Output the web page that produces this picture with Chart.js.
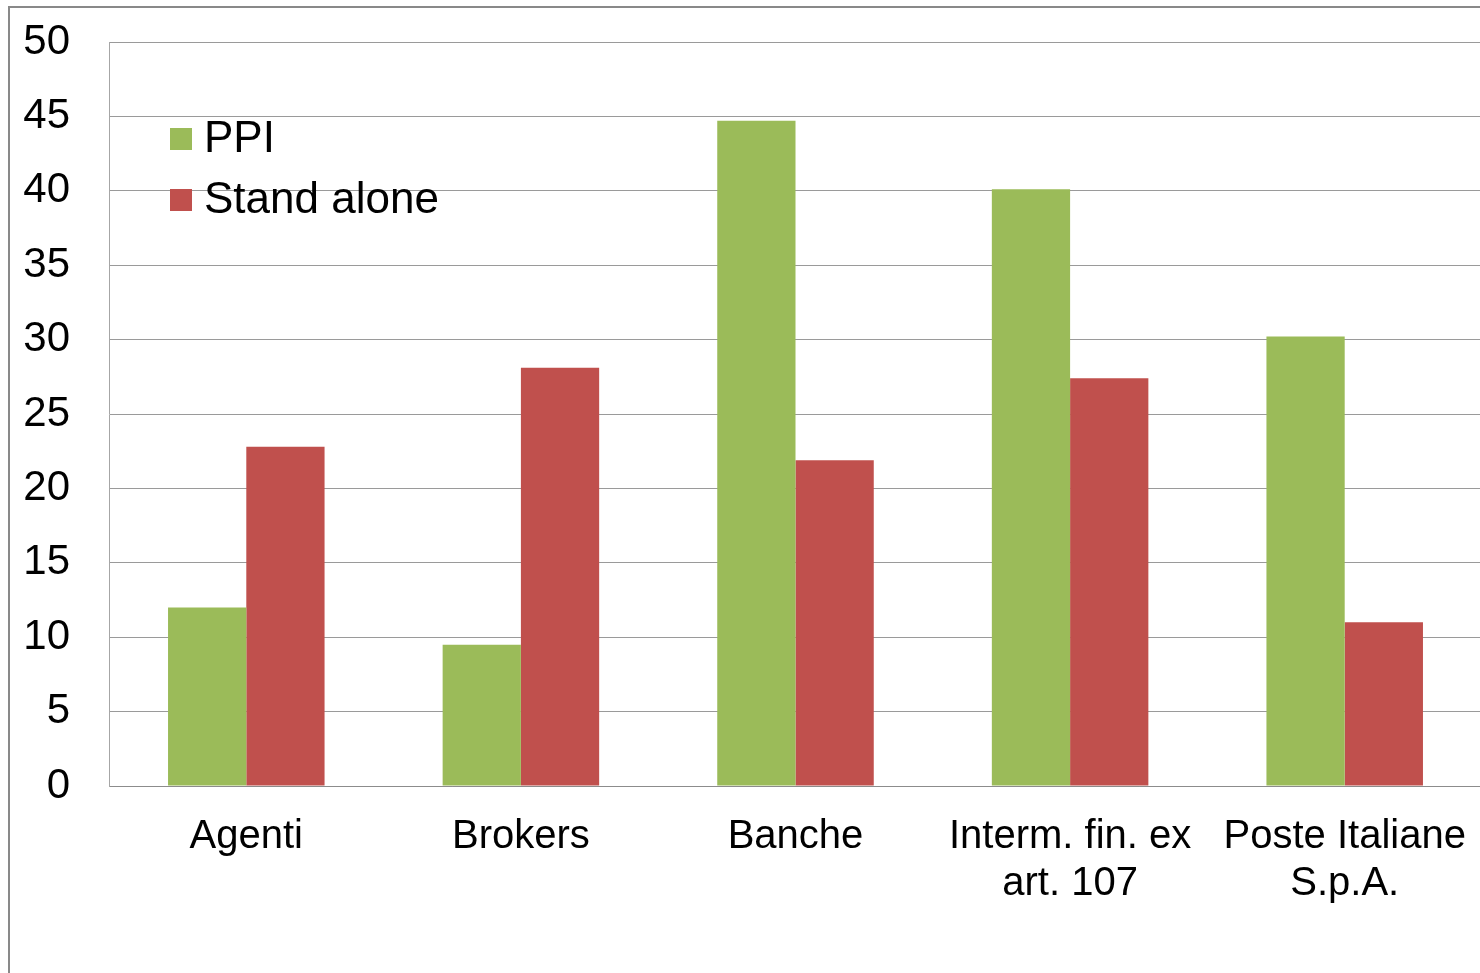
<!DOCTYPE html>
<html>
<head>
<meta charset="utf-8">
<script src="https://cdn.jsdelivr.net/npm/chart.js@4"></script>
<style>
  html, body { margin: 0; padding: 0; background: #fff; overflow: hidden; }
  #wrap { position: relative; width: 1480px; height: 973px; overflow: hidden; }
  #frame { position: absolute; left: 8px; top: 6px; width: 2000px; height: 2000px;
           border-left: 2px solid #898989; border-top: 2px solid #898989; }
  #box { position: absolute; left: 0; top: 0; width: 1482px; height: 973px; }
</style>
</head>
<body>
<div id="wrap">
  <div id="frame"></div>
  <div id="box"><canvas id="c"></canvas></div>
</div>
<script>
const categories = [
  'Agenti',
  'Brokers',
  'Banche',
  ['Interm. fin. ex', 'art. 107'],
  ['Poste Italiane', 'S.p.A.']
];
const ppiValues = [12.0, 9.5, 44.7, 40.1, 30.2];
const standAloneValues = [22.8, 28.1, 21.9, 27.4, 11.0];
const seriesNames = ['PPI', 'Stand alone'];
const seriesColors = ['#9BBB59', '#C0504D'];
const yTicks = [0, 5, 10, 15, 20, 25, 30, 35, 40, 45, 50];

const FONT = '"Liberation Sans", Arial, sans-serif';

// Legend drawn inside the plot area, top-left
const insideLegend = {
  id: 'insideLegend',
  afterDraw(chart) {
    const ctx = chart.ctx;
    ctx.save();
    ctx.font = '44px ' + FONT;
    ctx.textBaseline = 'alphabetic';
    ctx.textAlign = 'left';
    chart.data.datasets.forEach((ds, i) => {
      const y = 128 + i * 61;
      ctx.fillStyle = ds.backgroundColor;
      ctx.fillRect(170, y, 22, 22);
      ctx.fillStyle = '#000';
      ctx.fillText(ds.label, 204, y + 24);
    });
    ctx.restore();
  }
};

new Chart(document.getElementById('c'), {
  type: 'bar',
  data: {
    labels: categories,
    datasets: [
      { label: seriesNames[0], data: ppiValues, backgroundColor: seriesColors[0] },
      { label: seriesNames[1], data: standAloneValues, backgroundColor: seriesColors[1] }
    ]
  },
  options: {
    responsive: true,
    maintainAspectRatio: false,
    animation: false,
    layout: { padding: { top: 42, right: 0, bottom: 0, left: 0 } },
    datasets: { bar: { categoryPercentage: 0.57, barPercentage: 1.0 } },
    plugins: {
      legend: { display: false },
      tooltip: { enabled: false }
    },
    scales: {
      x: {
        grid: { display: false, drawTicks: false },
        border: { display: true, color: '#8c8c8c', width: 1 },
        ticks: {
          color: '#000',
          font: { family: FONT, size: 40, lineHeight: 1.19 },
          padding: 27,
          maxRotation: 0,
          autoSkip: false
        },
        afterFit(scale) {
          scale.height = 187;
          scale.paddingLeft = 0;
          scale.paddingRight = 0;
        }
      },
      y: {
        min: 0,
        max: 50,
        afterBuildTicks(scale) { scale.ticks = yTicks.map(v => ({ value: v })); },
        grid: { color: '#9a9a9a', lineWidth: 1, drawTicks: false },
        border: { display: true, color: '#a6a6a6', width: 1 },
        ticks: {
          color: '#000',
          font: { family: FONT, size: 42 },
          padding: 39
        },
        afterFit(scale) {
          scale.width = 109;
          scale.paddingTop = 0;
          scale.paddingBottom = 0;
        }
      }
    }
  },
  plugins: [insideLegend]
});
</script>
</body>
</html>
